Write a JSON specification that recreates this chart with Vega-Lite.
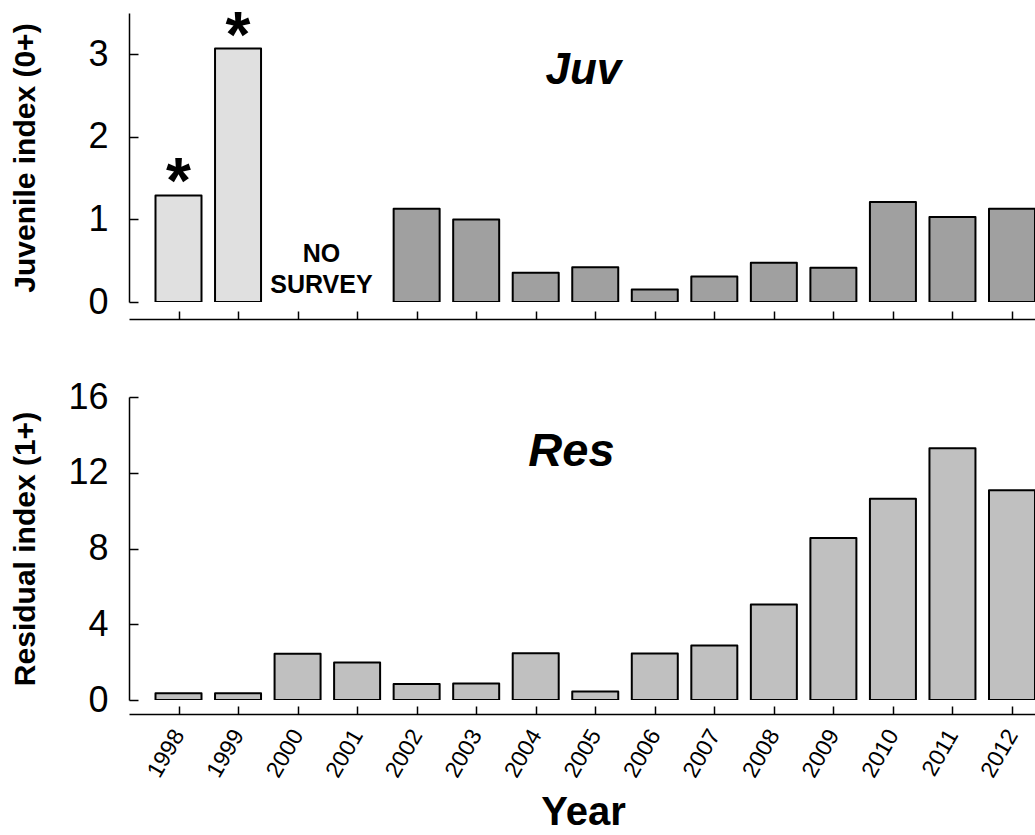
{
  "$schema": "https://vega.github.io/schema/vega-lite/v6.json",
  "background": "white",
  "padding": {"left": 9, "top": 5, "right": 0, "bottom": 0},
  "config": {
    "font": "Liberation Sans",
    "view": {"stroke": null},
    "axis": {
      "grid": false,
      "domainColor": "black",
      "domainWidth": 1.5,
      "tickColor": "black",
      "tickWidth": 1.5,
      "labelColor": "black",
      "titleColor": "black",
      "labelFont": "Liberation Sans",
      "titleFont": "Liberation Sans"
    }
  },
  "datasets": {
    "juvenile": [
      {"year": 1998, "index": 1.29, "survey": "early"},
      {"year": 1999, "index": 3.07, "survey": "early"},
      {"year": 2002, "index": 1.13, "survey": "standard"},
      {"year": 2003, "index": 1.0, "survey": "standard"},
      {"year": 2004, "index": 0.355, "survey": "standard"},
      {"year": 2005, "index": 0.42, "survey": "standard"},
      {"year": 2006, "index": 0.15, "survey": "standard"},
      {"year": 2007, "index": 0.31, "survey": "standard"},
      {"year": 2008, "index": 0.475, "survey": "standard"},
      {"year": 2009, "index": 0.415, "survey": "standard"},
      {"year": 2010, "index": 1.21, "survey": "standard"},
      {"year": 2011, "index": 1.03, "survey": "standard"},
      {"year": 2012, "index": 1.13, "survey": "standard"}
    ],
    "residual": [
      {"year": 1998, "index": 0.36},
      {"year": 1999, "index": 0.36},
      {"year": 2000, "index": 2.44},
      {"year": 2001, "index": 1.98},
      {"year": 2002, "index": 0.84},
      {"year": 2003, "index": 0.87},
      {"year": 2004, "index": 2.47},
      {"year": 2005, "index": 0.45},
      {"year": 2006, "index": 2.46},
      {"year": 2007, "index": 2.88},
      {"year": 2008, "index": 5.04},
      {"year": 2009, "index": 8.55},
      {"year": 2010, "index": 10.63},
      {"year": 2011, "index": 13.3},
      {"year": 2012, "index": 11.08}
    ]
  },
  "bounds": "flush",
  "spacing": 95,
  "vconcat": [
    {
      "width": 908,
      "height": 289,
      "layer": [
        {
          "data": {"name": "juvenile"},
          "mark": {"type": "bar", "orient": "vertical", "width": 46, "stroke": "black", "strokeWidth": 2, "strokeJoin": "round", "clip": true},
          "encoding": {
            "x": {
              "field": "year", "type": "quantitative",
              "scale": {"domain": [1997.2525, 2012.336], "nice": false, "zero": false},
              "axis": {"values": [1998, 1999, 2000, 2001, 2002, 2003, 2004, 2005, 2006, 2007, 2008, 2009, 2010, 2011, 2012], "labels": false, "title": null, "tickSize": -8, "offset": 17}
            },
            "y": {
              "field": "index", "type": "quantitative",
              "scale": {"domain": [0, 3.5], "nice": false},
              "axis": {"values": [0, 1, 2, 3], "format": "d", "tickSize": -9, "labelPadding": 30, "labelFontSize": 36, "title": "Juvenile index (0+)", "titleFontSize": 30, "titleFontWeight": "bold", "titleX": -104, "titleBaseline": "middle"}
            },
            "fill": {"field": "survey", "type": "nominal", "scale": {"domain": ["early", "standard"], "range": ["#e0e0e0", "#a0a0a0"]}, "legend": null}
          }
        },
        {
          "data": {"name": "juvenile"},
          "transform": [{"filter": "datum.survey === 'early'"}],
          "mark": {"type": "text", "text": "*", "fontSize": 64, "fontWeight": "bold", "baseline": "alphabetic", "dy": 8},
          "encoding": {
            "x": {"field": "year", "type": "quantitative"},
            "y": {"field": "index", "type": "quantitative"}
          }
        },
        {
          "data": {"values": [{}]},
          "mark": {"type": "text", "text": ["NO", "SURVEY"], "fontSize": 25, "fontWeight": "bold", "lineHeight": 31, "baseline": "alphabetic"},
          "encoding": {"x": {"datum": 2000.4}, "y": {"datum": 0.484}}
        },
        {
          "data": {"values": [{}]},
          "mark": {"type": "text", "text": "Juv", "fontSize": 44, "fontWeight": "bold", "fontStyle": "italic", "baseline": "alphabetic"},
          "encoding": {"x": {"datum": 2004.8}, "y": {"datum": 2.64}}
        }
      ]
    },
    {
      "width": 908,
      "height": 303,
      "layer": [
        {
          "data": {"name": "residual"},
          "mark": {"type": "bar", "orient": "vertical", "width": 46, "fill": "#c0c0c0", "stroke": "black", "strokeWidth": 2, "strokeJoin": "round", "clip": true},
          "encoding": {
            "x": {
              "field": "year", "type": "quantitative",
              "scale": {"domain": [1997.2525, 2012.336], "nice": false, "zero": false},
              "axis": {"values": [1998, 1999, 2000, 2001, 2002, 2003, 2004, 2005, 2006, 2007, 2008, 2009, 2010, 2011, 2012], "format": "d", "tickSize": -8, "offset": 14, "labelAngle": -60, "labelAlign": "right", "labelBaseline": "middle", "labelFontSize": 23, "labelPadding": 25, "title": "Year", "titleFontSize": 40, "titleFontWeight": "bold", "titleBaseline": "alphabetic", "titleY": 110}
            },
            "y": {
              "field": "index", "type": "quantitative",
              "scale": {"domain": [0, 16], "nice": false},
              "axis": {"values": [0, 4, 8, 12, 16], "tickSize": -9, "labelPadding": 30, "labelFontSize": 36, "title": "Residual index (1+)", "titleFontSize": 30, "titleFontWeight": "bold", "titleX": -104, "titleBaseline": "middle"}
            }
          }
        },
        {
          "data": {"values": [{}]},
          "mark": {"type": "text", "text": "Res", "fontSize": 47, "fontWeight": "bold", "fontStyle": "italic", "baseline": "alphabetic"},
          "encoding": {"x": {"datum": 2004.6}, "y": {"datum": 12.35}}
        }
      ]
    }
  ]
}
